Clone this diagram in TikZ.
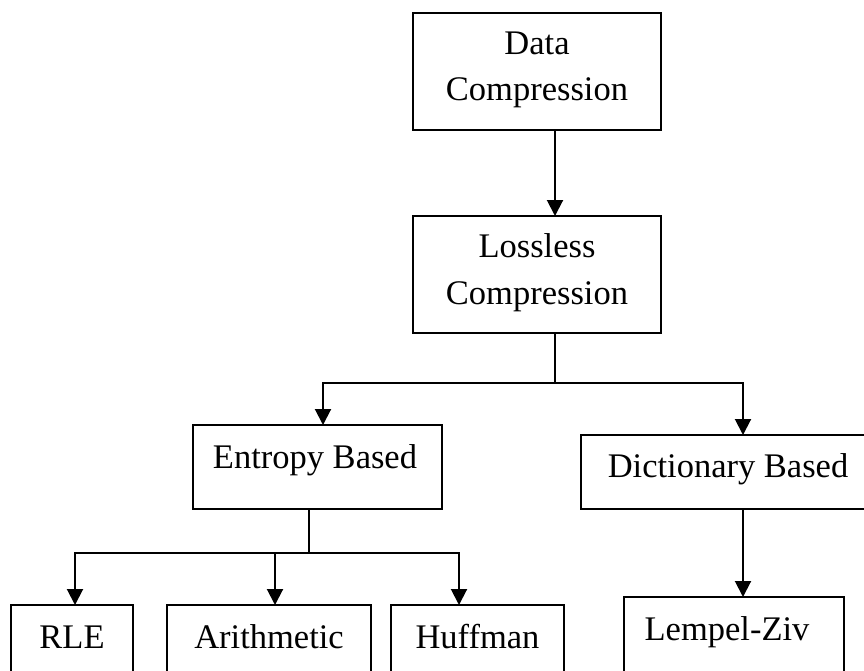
\documentclass[tikz,border=0pt]{standalone}
\usepackage{fontspec}
\setmainfont{Liberation Serif}
\usetikzlibrary{arrows.meta,calc}
\begin{document}
\begin{tikzpicture}[x=1pt,y=-1pt,
  box/.style={draw,line width=2pt,inner sep=0pt,outer sep=0pt},
  txt/.style={anchor=base,inner sep=0pt,font=\fontsize{34.5}{40}\selectfont},
  link/.style={line width=2pt},
  arr/.style={line width=2pt,-{Triangle[width=16pt,length=16pt]}}]
\useasboundingbox (0,0) rectangle (864,670);
% boxes
\node[box,minimum width=248pt,minimum height=117pt] (dc) at (537,71.5) {};
\node[box,minimum width=248pt,minimum height=117pt] (ll) at (537,274.5) {};
\node[box,minimum width=249pt,minimum height=84pt] (eb) at (317.5,467) {};
\node[box,minimum width=294pt,minimum height=74pt] (db) at (728,472) {};
\node[box,minimum width=122pt,minimum height=85pt] (rle) at (72,647.5) {};
\node[box,minimum width=204pt,minimum height=85pt] (ar) at (269,647.5) {};
\node[box,minimum width=173pt,minimum height=85pt] (hu) at (477.5,647.5) {};
\node[box,minimum width=220pt,minimum height=93pt] (lz) at (734,643.5) {};
% texts
\node[txt] (t1a) at (537,54) {Data};
\node[txt] (t1b) at (537,100) {Compression};
\node[txt] (t2a) at (537,257) {Lossless};
\node[txt] (t2b) at (537,304) {Compression};
\node[txt] (t3) at (315,468) {Entropy Based};
\node[txt] (t4) at (728,477) {Dictionary Based};
\node[txt] (t5) at (72,648) {RLE};
\node[txt] (t6) at (269,648) {Arithmetic};
\node[txt] (t7) at (477.5,648) {Huffman};
\node[txt] (t8) at (727,640) {Lempel-Ziv};
% connector coordinates
\coordinate (j1) at (555,383);
\coordinate (j2) at (309,553);
\coordinate (xe) at (323,0);
\coordinate (xd) at (743,0);
\coordinate (xr) at (75,0);
\coordinate (xa) at (275,0);
\coordinate (xh) at (459,0);
% connectors
\draw[arr] (dc.south -| j1) -- (ll.north -| j1);
\draw[link] (ll.south -| j1) -- (j1);
\draw[arr] (j1) -| (eb.north -| xe);
\draw[arr] (j1) -| (db.north -| xd);
\draw[arr] (db.south -| xd) -- (lz.north -| xd);
\draw[link] (eb.south -| j2) -- (j2);
\draw[arr] (j2) -| (rle.north -| xr);
\draw[arr] (j2 -| xa) -- (ar.north -| xa);
\draw[arr] (j2) -| (hu.north -| xh);
\end{tikzpicture}
\end{document}
